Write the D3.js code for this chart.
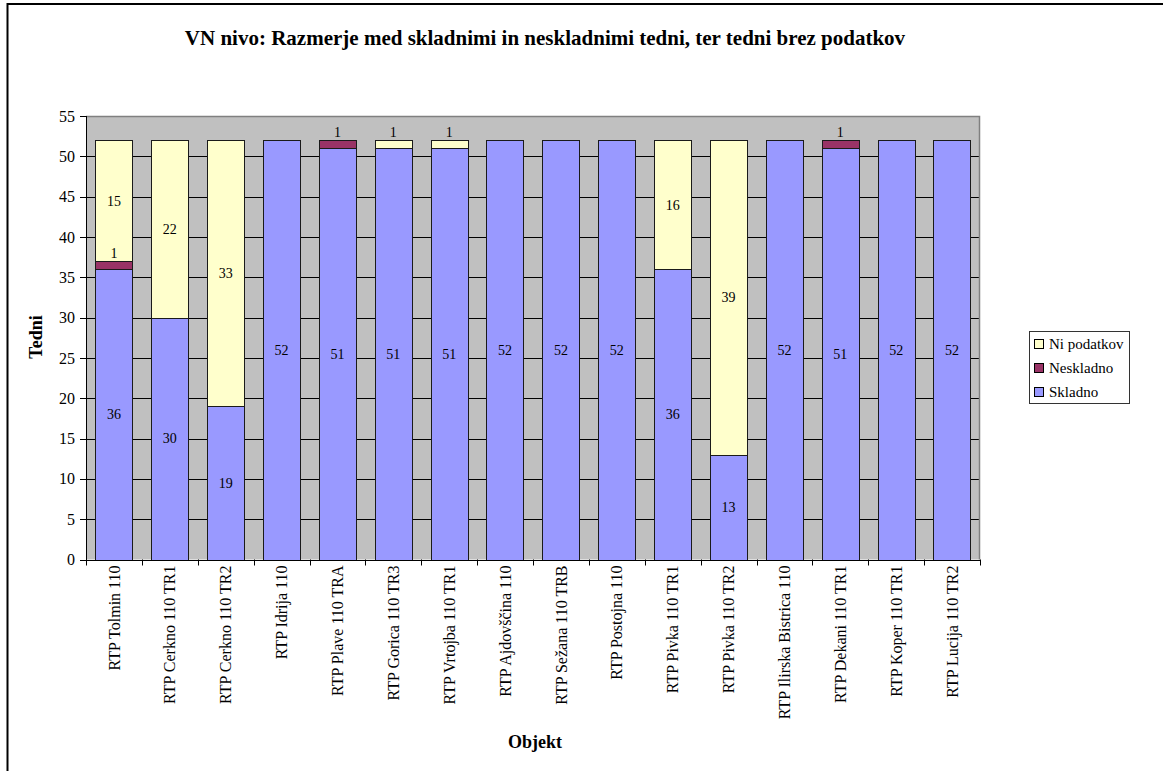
<!DOCTYPE html>
<html>
<head>
<meta charset="utf-8">
<script src="https://cdn.jsdelivr.net/npm/d3@7"></script>
<style>
  html, body { margin: 0; padding: 0; background: #fff; }
  svg { display: block; font-family: "Liberation Serif", "Times New Roman", serif; }
</style>
</head>
<body>
<svg id="chart" width="1163" height="771"></svg>
<script>
// Weeks per substation: compliant, non-compliant, and weeks without data
const categories = [
  "RTP Tolmin 110", "RTP Cerkno 110 TR1", "RTP Cerkno 110 TR2", "RTP Idrija 110",
  "RTP Plave 110 TRA", "RTP Gorica 110 TR3", "RTP Vrtojba 110 TR1", "RTP Ajdovščina 110",
  "RTP Sežana 110 TRB", "RTP Postojna 110", "RTP Pivka 110 TR1", "RTP Pivka 110 TR2",
  "RTP Ilirska Bistrica 110", "RTP Dekani 110 TR1", "RTP Koper 110 TR1", "RTP Lucija 110 TR2"
];
const skladno    = [36, 30, 19, 52, 51, 51, 51, 52, 52, 52, 36, 13, 52, 51, 52, 52];
const neskladno  = [ 1,  0,  0,  0,  1,  0,  0,  0,  0,  0,  0,  0,  0,  1,  0,  0];
const niPodatkov = [15, 22, 33,  0,  0,  1,  1,  0,  0,  0, 16, 39,  0,  0,  0,  0];
const yTicks = [0, 5, 10, 15, 20, 25, 30, 35, 40, 45, 50, 55];

const seriesNames = ["Skladno", "Neskladno", "Ni podatkov"];
const seriesColors = ["#9999FF", "#993366", "#FFFFCC"];

const svg = d3.select("#chart");
const W = 1163, H = 771;
const plot = { left: 86, right: 980, top: 116, bottom: 559.5 };

// Outer chart frame
svg.append("path")
  .attr("d", `M7.5,${H} V4 H${W}`)
  .attr("fill", "none").attr("stroke", "#000").attr("stroke-width", 2);

const x = d3.scaleBand()
  .domain(categories)
  .range([plot.left, plot.right])
  .paddingInner(1 / 3)
  .paddingOuter(1 / 6);

const y = d3.scaleLinear().domain([0, 55]).range([plot.bottom, plot.top]);

// Plot area background
svg.append("rect")
  .attr("x", plot.left).attr("y", plot.top)
  .attr("width", plot.right - plot.left).attr("height", plot.bottom - plot.top)
  .attr("fill", "#C0C0C0");

// Horizontal gridlines
svg.append("g").selectAll("line")
  .data(yTicks.filter(t => t > 0 && t < 55))
  .join("line")
  .attr("x1", plot.left).attr("x2", plot.right)
  .attr("y1", d => Math.round(y(d)) + 0.5).attr("y2", d => Math.round(y(d)) + 0.5)
  .attr("stroke", "#000").attr("stroke-width", 1);

// Plot area frame (top and right)
svg.append("path")
  .attr("d", `M${plot.left},${plot.top + 0.5} H${plot.right - 0.5} V${plot.bottom}`)
  .attr("fill", "none").attr("stroke", "#808080").attr("stroke-width", 1.5);

// Stacked series
const rows = categories.map((c, i) => ({
  cat: c, "Skladno": skladno[i], "Neskladno": neskladno[i], "Ni podatkov": niPodatkov[i]
}));
const stacked = d3.stack().keys(seriesNames)(rows);

const layers = svg.append("g").selectAll("g")
  .data(stacked)
  .join("g")
  .attr("fill", (d, i) => seriesColors[i]);

layers.selectAll("rect")
  .data(d => d.filter(s => s[1] - s[0] > 0))
  .join("rect")
  .attr("x", d => Math.round(x(d.data.cat)) + 0.5)
  .attr("width", Math.round(x.bandwidth()))
  .attr("y", d => Math.round(y(d[1])) + 0.5)
  .attr("height", d => Math.round(y(d[0])) - Math.round(y(d[1])))
  .attr("stroke", "#1a1a1a").attr("stroke-width", 1);

// Value labels: centred in the segment, or just above it when the segment is too short
const labels = [];
stacked.forEach(layer => {
  layer.forEach(s => {
    const v = s[1] - s[0];
    if (v <= 0) return;
    const hPix = y(s[0]) - y(s[1]);
    const cy = hPix < 14 ? y(s[1]) - 8 : (y(s[0]) + y(s[1])) / 2;
    labels.push({ v, cx: x(s.data.cat) + x.bandwidth() / 2, cy });
  });
});
svg.append("g").selectAll("text")
  .data(labels)
  .join("text")
  .attr("x", d => d.cx).attr("y", d => d.cy)
  .attr("dy", "0.35em")
  .attr("text-anchor", "middle")
  .attr("font-size", 14)
  .attr("fill", "#000")
  .text(d => d.v);

// Y axis
const yAxis = svg.append("g");
yAxis.append("line")
  .attr("x1", plot.left + 0.5).attr("x2", plot.left + 0.5)
  .attr("y1", plot.top).attr("y2", plot.bottom + 0.5)
  .attr("stroke", "#000");
yAxis.selectAll("line.tick")
  .data(yTicks)
  .join("line").attr("class", "tick")
  .attr("x1", plot.left - 6).attr("x2", plot.left)
  .attr("y1", d => Math.round(y(d)) + 0.5).attr("y2", d => Math.round(y(d)) + 0.5)
  .attr("stroke", "#000");
yAxis.selectAll("text")
  .data(yTicks)
  .join("text")
  .attr("x", plot.left - 11).attr("y", d => y(d))
  .attr("dy", "0.35em")
  .attr("text-anchor", "end")
  .attr("font-size", 16)
  .text(d => d);

// X axis
const xAxis = svg.append("g");
xAxis.append("line")
  .attr("x1", plot.left).attr("x2", plot.right)
  .attr("y1", Math.round(plot.bottom) + 0.5).attr("y2", Math.round(plot.bottom) + 0.5)
  .attr("stroke", "#000");
const bounds = categories.map((c, i) => plot.left + i * x.step()).concat([plot.right]);
xAxis.selectAll("line.tick")
  .data(bounds)
  .join("line").attr("class", "tick")
  .attr("x1", d => Math.round(d) + 0.5).attr("x2", d => Math.round(d) + 0.5)
  .attr("y1", plot.bottom).attr("y2", plot.bottom + 6)
  .attr("stroke", "#000");
xAxis.selectAll("text")
  .data(categories)
  .join("text")
  .attr("transform", d => `translate(${x(d) + x.bandwidth() / 2},${plot.bottom + 6}) rotate(-90)`)
  .attr("dy", "0.35em")
  .attr("text-anchor", "end")
  .attr("font-size", 16)
  .text(d => d);

// Titles
svg.append("text")
  .attr("x", 545).attr("y", 45)
  .attr("text-anchor", "middle")
  .attr("font-size", 21).attr("font-weight", "bold")
  .text("VN nivo: Razmerje med skladnimi in neskladnimi tedni, ter tedni brez podatkov");

svg.append("text")
  .attr("transform", "translate(36,337) rotate(-90)")
  .attr("dy", "0.35em")
  .attr("text-anchor", "middle")
  .attr("font-size", 18).attr("font-weight", "bold")
  .text("Tedni");

svg.append("text")
  .attr("x", 535).attr("y", 748)
  .attr("text-anchor", "middle")
  .attr("font-size", 18).attr("font-weight", "bold")
  .text("Objekt");

// Legend
const legend = svg.append("g");
legend.append("rect")
  .attr("x", 1029.5).attr("y", 331.5).attr("width", 100).attr("height", 72)
  .attr("fill", "#fff").attr("stroke", "#333").attr("stroke-width", 1);
const legendOrder = [2, 1, 0];
const li = legend.selectAll("g.item")
  .data(legendOrder)
  .join("g").attr("class", "item")
  .attr("transform", (d, i) => `translate(1034,${344 + i * 24})`);
li.append("rect")
  .attr("x", 0.5).attr("y", -4.5).attr("width", 9).attr("height", 9)
  .attr("fill", d => seriesColors[d]).attr("stroke", "#000");
li.append("text")
  .attr("x", 15).attr("y", 0).attr("dy", "0.35em")
  .attr("font-size", 15)
  .text(d => seriesNames[d]);
</script>
</body>
</html>
